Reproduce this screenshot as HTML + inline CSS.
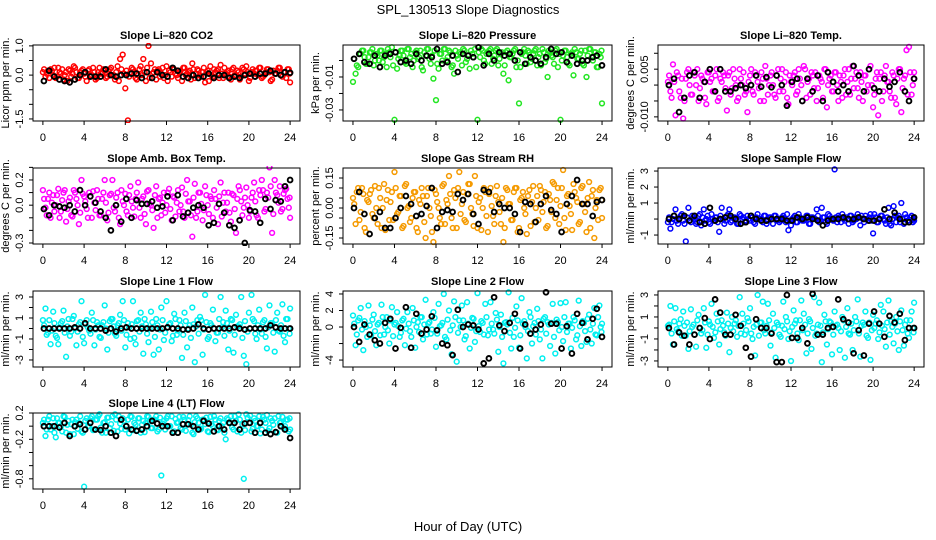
<!DOCTYPE html>
<html><head><meta charset="utf-8"><style>
html,body{margin:0;padding:0;background:#fff;}
svg{display:block;font-family:"Liberation Sans",sans-serif;}
</style></head><body>
<svg id="chart" width="936" height="540" viewBox="0 0 936 540" xmlns="http://www.w3.org/2000/svg">
<rect x="0" y="0" width="936" height="540" fill="#fff"/>
<text x="468" y="14" text-anchor="middle" font-size="13">SPL_130513  Slope Diagnostics</text>
<text x="468" y="531" text-anchor="middle" font-size="13">Hour of Day (UTC)</text>
</svg>
<script>
const T=[0,0.25,0.5,0.75,1,1.25,1.5,1.75,2,2.25,2.5,2.75,3,3.25,3.5,3.75,4,4.25,4.5,4.75,5,5.25,5.5,5.75,6,6.25,6.5,6.75,7,7.25,7.5,7.75,8,8.25,8.5,8.75,9,9.25,9.5,9.75,10,10.25,10.5,10.75,11,11.25,11.5,11.75,12,12.25,12.5,12.75,13,13.25,13.5,13.75,14,14.25,14.5,14.75,15,15.25,15.5,15.75,16,16.25,16.5,16.75,17,17.25,17.5,17.75,18,18.25,18.5,18.75,19,19.25,19.5,19.75,20,20.25,20.5,20.75,21,21.25,21.5,21.75,22,22.25,22.5,22.75,23,23.25,23.5,23.75,24];
const T2=[0.12,0.37,0.62,0.87,1.12,1.37,1.62,1.87,2.12,2.37,2.62,2.87,3.12,3.37,3.62,3.87,4.12,4.37,4.62,4.87,5.12,5.37,5.62,5.87,6.12,6.37,6.62,6.87,7.12,7.37,7.62,7.87,8.12,8.37,8.62,8.87,9.12,9.37,9.62,9.87,10.12,10.37,10.62,10.87,11.12,11.37,11.62,11.87,12.12,12.37,12.62,12.87,13.12,13.37,13.62,13.87,14.12,14.37,14.62,14.87,15.12,15.37,15.62,15.87,16.12,16.37,16.62,16.87,17.12,17.37,17.62,17.87,18.12,18.37,18.62,18.87,19.12,19.37,19.62,19.87,20.12,20.37,20.62,20.87,21.12,21.37,21.62,21.87,22.12,22.37,22.62,22.87,23.12,23.37,23.62,23.87,23.95];
const TB=[0,0.5,1,1.5,2,2.5,3,3.5,4,4.5,5,5.5,6,6.5,7,7.5,8,8.5,9,9.5,10,10.5,11,11.5,12,12.5,13,13.5,14,14.5,15,15.5,16,16.5,17,17.5,18,18.5,19,19.5,20,20.5,21,21.5,22,22.5,23,23.5,24];
const xTicks=[0,4,8,12,16,20,24];

const co2Vals=[0.1,-0.05,0.15,0.2,0.0,-0.1,0.25,0.05,-0.15,0.1,0.2,-0.05,0.3,0.1,-0.1,0.15,0.05,-0.2,0.2,0.0,0.1,-0.1,0.25,0.05,0.15,-0.05,0.2,0.0,-0.15,0.3,0.55,0.7,-0.45,-1.55,0.1,0.2,-0.1,0.0,0.3,0.55,-0.2,1.0,0.4,0.1,-0.15,0.2,0.05,-0.1,0.3,0.15,-0.05,0.2,0.0,0.1,-0.2,0.25,0.05,0.15,0.4,-0.1,0.2,0.0,0.1,-0.25,0.15,0.3,-0.05,0.1,0.2,0.35,-0.1,0.05,0.15,-0.15,0.25,0.0,0.1,-0.05,0.2,0.3,-0.2,0.1,0.05,0.15,0.25,-0.1,0.0,0.2,0.1,-0.15,0.05,0.15,0.25,-0.05,0.1,0.2,-0.25];
const co2Vals2=[0.2,0.05,-0.1,0.15,0.25,-0.05,0.1,0.2,0.0,-0.2,0.15,0.05,0.25,-0.1,0.1,0.2,-0.05,0.15,0.0,0.25,-0.15,0.1,0.05,0.2,-0.1,0.15,0.25,0.0,0.1,-0.2,0.2,0.05,0.15,-0.05,0.25,0.1,-0.15,0.2,0.0,0.1,0.25,-0.1,0.05,0.2,0.15,-0.05,0.25,0.0,-0.2,0.1,0.2,0.05,-0.1,0.15,0.25,0.0,0.1,-0.15,0.2,0.05,0.15,-0.05,0.25,0.1,-0.2,0.0,0.2,0.15,-0.1,0.05,0.25,0.1,-0.05,0.2,0.0,0.15,-0.15,0.25,0.05,0.1,-0.1,0.2,0.15,0.0,0.25,-0.05,0.1,0.2,-0.2,0.15,0.05,0.25,0.0,0.1,-0.1,0.2,0.05];
const co2Black=[-0.2,0.15,-0.05,-0.15,-0.2,-0.25,-0.15,0.0,0.1,-0.05,-0.05,-0.05,0.2,0.0,-0.05,0.0,0.0,0.05,0.05,-0.1,0.1,-0.1,0.1,0.0,-0.05,0.25,0.15,-0.05,-0.1,0.0,-0.1,-0.05,0.05,-0.1,0.0,0.0,-0.1,-0.05,-0.1,0.0,0.05,-0.05,0.05,0.05,0.15,0.05,0.0,0.1,0.08];

const presVals=[-0.013,-0.008,-0.004,0.004,0.006,-0.002,0.002,0.005,-0.003,0.004,0.0,0.006,0.002,-0.004,0.005,0.008,-0.036,-0.005,0.003,0.006,-0.001,0.007,0.002,-0.004,0.005,0.001,0.006,-0.006,0.003,0.007,-0.002,-0.011,-0.024,-0.005,0.004,0.007,0.0,0.006,-0.004,-0.008,0.003,0.005,-0.003,0.006,0.001,-0.005,0.004,0.007,-0.036,0.002,0.006,-0.002,0.005,0.007,0.001,0.006,-0.003,0.004,-0.008,0.005,-0.012,0.002,0.006,-0.004,-0.026,0.004,0.007,-0.002,0.005,0.001,0.006,-0.003,0.004,0.007,-0.001,-0.010,0.005,0.002,0.006,-0.004,-0.036,0.003,0.006,-0.002,0.004,-0.009,0.005,0.001,0.006,-0.003,-0.010,0.007,0.002,0.005,-0.004,0.004,-0.026];
const presVals2=[0.001,-0.003,0.004,0.006,0.002,-0.002,0.005,0.007,0.0,0.003,0.006,-0.001,0.004,0.007,0.002,-0.003,0.005,0.001,0.006,0.003,-0.002,0.007,0.004,0.0,0.006,0.002,-0.004,0.005,0.007,0.001,0.003,0.006,-0.002,0.004,0.0,0.007,0.002,0.005,-0.003,0.006,0.001,0.004,0.007,-0.001,0.003,0.006,0.002,-0.004,0.005,0.007,0.0,0.004,0.006,-0.002,0.003,0.007,0.001,0.005,-0.003,0.006,0.002,0.004,0.007,0.0,-0.004,0.005,0.003,0.006,-0.001,0.004,0.007,0.002,-0.003,0.005,0.001,0.006,0.003,-0.002,0.007,0.004,0.0,0.006,0.002,-0.003,0.005,0.007,0.001,0.004,-0.002,0.006,0.003,0.007,0.0,0.005,-0.004,0.002,0.006];
const presBlack=[0.001,0.004,-0.001,-0.002,0.003,-0.004,0.003,0.004,0.005,-0.001,0.0,-0.002,0.004,0.0,0.003,0.002,0.007,-0.002,-0.001,0.003,-0.007,0.004,0.003,0.002,0.008,-0.003,0.004,0.0,0.005,0.003,0.004,0.0,0.005,-0.002,0.002,0.0,-0.002,0.002,0.007,0.004,0.005,-0.001,0.003,-0.002,0.0,0.0,0.002,0.003,-0.003];

const tempVals=[0.001,-0.002,0.0065,-0.0095,0.003,-0.004,-0.0105,0.002,0.005,-0.003,0.004,0.0,-0.005,0.003,0.001,-0.006,0.004,0.002,-0.002,0.005,-0.004,0.001,0.003,-0.008,0.004,-0.001,0.002,-0.005,0.005,0.0,-0.003,-0.0085,0.003,-0.002,0.004,0.001,-0.005,0.002,0.006,-0.003,0.003,0.0,-0.004,0.005,0.002,-0.002,0.004,-0.006,0.001,0.003,-0.003,0.005,0.0,0.006,-0.004,0.002,0.004,-0.001,-0.005,0.003,0.001,0.005,-0.007,0.002,-0.002,0.004,0.0,0.003,-0.004,0.005,0.001,-0.003,0.006,0.002,-0.001,0.004,-0.005,0.003,0.0,0.006,-0.007,0.002,-0.0095,0.004,-0.002,0.006,0.001,-0.004,0.003,-0.006,0.005,-0.0085,0.002,0.011,0.012,-0.003,0.004];
const tempVals2=[0.003,-0.004,0.001,0.004,-0.002,0.002,-0.005,0.004,0.0,-0.003,0.003,0.005,-0.001,0.002,-0.004,0.004,0.001,-0.002,0.003,-0.005,0.002,0.004,-0.001,0.003,-0.003,0.005,0.0,-0.004,0.002,0.004,-0.002,0.001,0.005,-0.003,0.003,-0.001,0.004,-0.005,0.002,0.0,0.004,-0.003,0.003,-0.002,0.005,0.001,-0.004,0.003,0.0,0.004,-0.002,0.002,-0.005,0.005,0.001,-0.003,0.003,0.004,-0.001,0.002,-0.004,0.005,0.0,0.003,-0.002,0.004,-0.005,0.001,0.003,-0.003,0.005,0.002,-0.001,0.004,-0.004,0.001,0.003,-0.002,0.005,0.0,-0.003,0.004,0.002,-0.005,0.003,0.001,-0.002,0.004,-0.004,0.002,0.005,-0.001,0.003,-0.003,0.004,0.0,0.002];
const tempBlack=[0.0,0.002,-0.0085,-0.004,0.003,0.004,-0.004,0.001,0.005,-0.002,0.005,-0.002,-0.002,-0.001,0.0,-0.001,0.0,0.003,-0.0005,0.0025,-0.0007,0.003,0.0,-0.0065,0.001,0.002,-0.005,0.002,-0.002,0.003,-0.005,0.004,0.001,-0.002,0.0,-0.002,0.006,0.003,-0.002,0.005,-0.001,-0.002,0.002,-0.0005,0.001,0.004,-0.002,-0.005,0.002];

const ambVals=[0.12,-0.02,0.05,-0.1,0.08,0.0,0.13,-0.05,0.1,-0.13,0.03,-0.08,0.12,0.05,-0.15,0.2,0.07,-0.03,0.1,-0.1,0.02,0.12,-0.08,0.05,0.2,-0.12,0.08,0.2,-0.05,0.1,-0.15,0.03,0.09,-0.08,0.15,-0.02,0.05,0.18,-0.1,0.07,-0.15,0.12,0.0,-0.18,0.15,0.05,-0.08,0.1,0.0,0.13,-0.12,0.06,0.02,-0.05,0.14,-0.1,0.2,0.03,-0.25,0.17,-0.05,0.1,-0.12,0.15,0.0,0.07,-0.1,0.05,-0.15,0.18,0.02,-0.05,0.1,-0.13,0.08,-0.22,0.15,0.03,-0.02,0.14,-0.1,0.06,0.18,-0.08,0.12,0.2,-0.05,0.1,0.3,-0.22,0.2,0.08,0.15,-0.03,0.12,0.05,-0.1];
const ambVals2=[0.05,-0.08,0.1,0.02,-0.05,0.08,-0.1,0.04,0.12,-0.03,0.06,-0.09,0.1,0.0,-0.06,0.09,0.03,-0.1,0.07,0.11,-0.04,0.05,-0.08,0.1,0.02,-0.06,0.09,-0.02,0.06,-0.1,0.12,0.0,-0.05,0.08,0.03,-0.09,0.1,-0.02,0.05,-0.07,0.11,0.01,-0.04,0.08,-0.1,0.06,0.02,-0.06,0.1,-0.03,0.07,-0.09,0.12,0.0,-0.05,0.09,0.03,-0.08,0.06,-0.1,0.1,0.01,-0.04,0.08,-0.07,0.05,0.12,-0.02,0.07,-0.09,0.1,0.02,-0.06,0.09,-0.03,0.05,0.12,-0.08,0.06,0.0,-0.05,0.1,0.03,-0.1,0.08,0.12,-0.03,0.06,0.15,-0.07,0.1,0.02,-0.05,0.09,0.13,-0.02,0.06];
const ambBlack=[-0.03,-0.08,0.0,-0.01,-0.02,0.0,-0.05,0.12,0.0,0.07,0.02,-0.05,-0.1,-0.2,0.0,-0.13,0.05,-0.1,0.04,0.01,0.01,0.03,-0.02,-0.01,0.07,-0.12,0.08,-0.09,-0.06,-0.02,0.0,-0.02,-0.16,-0.14,0.01,-0.06,-0.16,-0.18,-0.12,-0.3,-0.04,-0.05,-0.14,0.05,-0.03,0.04,0.03,0.15,0.2];

const rhVals=[0.05,-0.08,0.1,-0.02,0.07,-0.12,0.03,0.09,-0.05,0.0,0.1,-0.1,0.12,0.04,-0.06,0.08,0.18,-0.03,0.06,-0.1,0.11,0.0,-0.07,0.05,0.08,-0.12,0.02,0.06,-0.15,0.1,-0.04,-0.17,0.07,0.0,-0.08,0.12,0.04,0.16,-0.05,0.09,-0.1,0.18,0.02,-0.06,0.07,0.12,-0.03,0.16,-0.1,0.05,0.0,0.08,-0.12,0.1,-0.04,0.06,0.03,-0.08,-0.17,0.1,0.02,-0.06,0.08,0.1,-0.1,0.05,0.0,-0.13,0.09,0.03,-0.07,0.06,0.11,-0.02,0.08,-0.09,0.04,0.13,-0.05,0.1,0.01,0.19,-0.11,0.07,-0.03,0.12,0.05,-0.08,0.1,0.02,-0.12,0.13,0.06,-0.15,0.04,0.09,-0.05];
const rhVals2=[0.02,0.08,-0.06,0.1,-0.1,0.04,0.07,-0.03,0.11,-0.08,0.05,0.0,-0.11,0.09,0.03,-0.06,0.1,-0.02,0.06,-0.09,0.12,0.01,-0.05,0.08,-0.1,0.04,0.1,-0.07,0.06,0.0,-0.12,0.09,0.03,-0.05,0.11,-0.08,0.02,0.07,-0.1,0.05,0.1,-0.03,0.08,-0.07,0.12,0.0,-0.09,0.06,0.03,-0.11,0.1,-0.04,0.07,0.01,-0.08,0.11,-0.02,0.05,-0.1,0.09,0.02,-0.06,0.1,-0.12,0.04,0.08,-0.03,0.06,-0.09,0.11,0.0,-0.06,0.09,0.03,-0.1,0.07,-0.02,0.12,0.04,-0.08,0.1,-0.05,0.06,0.01,-0.11,0.08,0.03,-0.07,0.11,-0.02,0.05,-0.1,0.09,0.0,-0.06,0.1,0.04];
const rhBlack=[0.0,0.08,-0.03,-0.13,-0.05,-0.02,-0.1,-0.1,-0.05,0.0,0.06,0.02,-0.04,-0.03,0.01,0.1,-0.1,-0.02,-0.01,-0.02,0.07,0.04,0.07,-0.03,-0.08,0.09,0.08,-0.02,0.02,0.0,0.0,-0.03,-0.12,0.03,0.02,-0.07,0.02,0.06,-0.01,-0.03,-0.12,0.02,0.06,0.14,0.02,0.02,-0.04,0.03,0.04];

const sampleVals=[-0.2,-0.6,0.0,0.6,-0.3,0.2,-0.1,-1.4,0.7,-0.2,0.1,-0.3,0.2,-0.4,0.6,0.0,-0.2,0.3,-0.1,0.1,-0.8,0.7,-0.3,0.2,0.6,-0.1,0.1,-0.3,0.3,0.0,-0.2,0.2,-0.1,0.1,-0.3,0.3,0.0,-0.2,0.2,-0.1,0.1,-0.3,0.2,0.0,-0.1,0.2,-0.2,-0.7,-0.4,0.1,-0.2,0.3,0.0,-0.1,0.2,-0.3,0.1,0.0,0.6,-0.2,0.7,0.1,-0.3,0.2,0.0,3.1,-0.2,0.1,0.3,-0.1,0.0,0.2,-0.2,0.1,0.3,-0.4,0.0,0.2,-0.1,0.3,-0.9,0.1,-0.2,0.2,0.0,-0.3,0.7,-0.4,0.8,-0.2,0.2,1.0,-0.3,0.1,-0.2,0.2,-0.1];
const sampleVals2=[0.1,-0.2,0.2,-0.1,0.0,0.3,-0.3,0.1,-0.1,0.2,0.0,-0.2,0.3,0.1,-0.1,0.2,-0.3,0.0,0.1,-0.2,0.2,0.0,-0.1,0.3,-0.2,0.1,0.0,-0.3,0.2,0.1,-0.1,0.0,0.2,-0.2,0.1,0.0,-0.1,0.2,-0.3,0.1,0.0,0.2,-0.1,-0.2,0.1,0.0,0.3,-0.1,0.0,0.2,-0.2,0.1,-0.1,0.0,0.2,-0.3,0.1,0.0,0.2,-0.1,0.1,-0.2,0.3,0.0,-0.1,0.1,0.2,-0.2,0.0,0.1,-0.3,0.2,-0.1,0.0,0.1,0.2,-0.2,0.0,0.1,-0.1,0.3,-0.2,0.0,0.2,-0.1,0.1,-0.3,0.0,0.2,0.1,-0.2,0.0,0.3,-0.1,0.1,-0.2,0.0];
const sampleBlack=[0.0,0.2,0.0,0.2,-0.1,0.2,-0.2,-0.3,0.7,-0.1,0.0,0.1,0.2,0.0,-0.3,-0.2,0.2,0.0,-0.1,-0.1,0.0,0.0,0.0,-0.1,-0.1,0.1,0.0,0.1,0.0,-0.1,-0.4,-0.1,0.0,0.0,0.1,0.0,0.0,0.1,0.0,-0.1,-0.1,0.0,0.6,0.0,0.4,0.0,-0.2,-0.2,0.1];

const line1Vals=[0.8,1.9,-0.4,-1.5,1.6,-0.7,-1.5,0.5,1.7,-2.7,0.9,-0.3,1.2,-1.6,0.4,2.6,-1.4,0.8,-0.2,1.5,-1.6,0.6,-0.8,0.3,2.2,-2.0,0.7,0.9,-0.5,0.3,1.3,2.6,-1.8,0.5,-1.0,2.6,-1.5,0.8,1.5,-2.4,0.4,-1.3,1.6,-2.5,0.9,-2.0,2.0,-1.1,2.6,0.4,-1.2,1.4,-0.6,0.8,-2.8,1.5,-1.8,0.3,2.0,-3.2,0.8,1.1,-2.5,3.2,-1.0,0.5,1.8,-1.2,-0.4,3.0,0.6,1.7,-2.0,0.9,-2.3,1.3,0.2,3.0,-2.6,-3.4,1.5,3.2,0.7,-1.0,1.8,-0.5,0.8,-1.9,2.2,0.5,-2.2,1.5,-0.3,2.3,-1.3,0.9,1.9];
const line1Vals2=[0.3,-0.6,0.8,-0.2,0.5,-0.9,0.1,0.7,-0.4,0.2,-0.7,0.9,0.0,-0.3,0.6,-0.8,0.4,0.1,-0.5,0.8,-0.1,0.3,-0.9,0.6,0.0,-0.4,0.9,0.2,-0.7,0.5,-0.2,0.8,-0.6,0.1,0.4,-0.9,0.7,-0.3,0.2,0.9,-0.5,0.0,0.6,-0.8,0.3,-0.1,0.8,-0.4,0.1,0.5,-0.7,0.9,-0.2,0.3,-0.6,0.7,0.0,-0.9,0.4,0.2,-0.5,0.8,-0.1,0.6,-0.8,0.3,0.0,-0.4,0.9,0.1,-0.7,0.5,-0.2,0.8,-0.6,0.2,0.4,-0.9,0.7,-0.3,0.0,0.9,-0.5,0.3,-0.1,0.6,-0.8,0.1,0.5,-0.4,0.8,-0.2,0.3,-0.7,0.9,0.0,-0.5];
const line1Black=[0.0,0.0,0.0,0.0,0.0,0.0,0.1,0.0,0.5,0.0,0.0,0.0,-0.2,0.0,-0.3,0.0,0.1,0.0,0.0,0.0,0.0,0.0,0.0,0.0,0.1,0.0,0.0,-0.1,-0.1,0.0,0.4,0.0,-0.1,0.0,0.0,0.0,0.0,0.1,0.0,-0.1,0.0,0.0,0.0,0.0,0.3,0.1,0.0,0.0,0.0];

const line2Vals=[1.4,-2.2,0.8,2.3,-2.8,0.0,2.6,-1.0,1.5,-2.2,0.5,2.7,-0.9,1.2,-2.0,2.4,0.3,1.8,-1.2,0.8,-2.2,1.8,-0.5,2.3,-2.5,0.6,1.2,-1.5,3.3,0.4,-0.8,1.8,-2.4,2.8,0.2,4.0,-1.5,2.0,-3.3,3.1,-4.2,0.8,2.6,-1.5,3.0,-2.6,1.1,-1.8,4.1,-0.6,0.5,2.8,-1.0,3.0,-0.3,1.7,-3.0,1.5,-4.4,0.6,4.2,-2.6,-1.2,2.5,-2.5,3.5,0.7,-3.8,1.8,-2.0,0.5,2.2,-1.5,-3.8,1.2,0.6,-2.3,2.8,-3.2,0.6,2.9,-1.7,3.0,0.4,-2.6,1.2,-1.5,3.2,-2.3,0.5,-1.8,1.5,-2.0,2.3,-1.0,2.6,0.4];
const line2Vals2=[0.4,-0.9,1.1,-0.3,0.7,-1.2,0.2,0.9,-0.5,0.3,-1.0,1.2,0.0,-0.4,0.8,-1.1,0.5,0.1,-0.7,1.0,-0.2,0.4,-1.2,0.8,0.0,-0.6,1.2,0.3,-0.9,0.6,-0.3,1.1,-0.8,0.1,0.5,-1.2,0.9,-0.4,0.2,1.2,-0.7,0.0,0.8,-1.1,0.4,-0.1,1.0,-0.5,0.1,0.7,-0.9,1.2,-0.3,0.4,-0.8,0.9,0.0,-1.2,0.5,0.3,-0.7,1.1,-0.1,0.8,-1.0,0.4,0.0,-0.5,1.2,0.1,-0.9,0.7,-0.3,1.0,-0.8,0.3,0.5,-1.2,0.9,-0.4,0.0,1.2,-0.6,0.4,-0.1,0.8,-1.0,0.1,0.7,-0.5,1.0,-0.3,0.4,-0.9,1.2,0.0,-0.6];
const line2Black=[0.0,-1.8,0.3,-0.9,-1.6,-2.0,0.5,1.0,-2.6,-0.1,2.4,-2.5,1.6,-0.8,-0.3,1.3,-0.4,-2.0,-2.2,-3.4,2.1,0.0,0.3,0.2,-0.3,-4.4,-3.8,3.6,0.2,-0.5,0.5,1.6,-2.6,0.3,-0.8,-0.3,0.3,4.2,0.4,0.4,-2.6,0.1,-3.2,1.6,0.5,-1.5,1.0,2.2,-1.2];

const line3Vals=[0.2,2.0,-1.5,1.8,-0.3,0.8,1.5,-0.7,-1.9,1.7,0.3,-1.7,1.2,-0.5,1.8,-1.8,0.6,2.2,-0.9,1.3,-1.5,0.7,-0.4,1.4,-2.2,1.0,0.4,-0.8,2.8,1.3,-0.6,0.9,1.8,-1.0,-2.5,3.0,0.5,2.4,-0.5,2.2,-1.6,1.3,-2.7,0.3,-0.8,2.4,1.0,-1.0,-3.0,1.6,0.7,-1.1,2.5,1.3,-2.3,0.8,-1.9,2.8,-0.5,2.3,-3.1,1.2,-1.5,0.6,-2.4,1.5,0.3,-2.0,1.0,-2.7,1.8,-0.6,-2.0,1.0,2.6,-2.6,0.5,1.5,-0.9,-2.9,1.2,0.4,-1.0,2.1,1.5,-1.7,2.5,0.6,-1.4,1.0,-2.0,1.6,-1.6,0.7,-0.9,1.5,2.3];
const line3Vals2=[0.3,-0.5,0.6,-0.1,0.4,-0.7,0.2,0.5,-0.3,0.1,-0.6,0.7,0.0,-0.2,0.5,-0.6,0.3,0.1,-0.4,0.6,-0.1,0.2,-0.7,0.4,0.0,-0.3,0.7,0.2,-0.5,0.4,-0.2,0.6,-0.5,0.1,0.3,-0.7,0.5,-0.2,0.2,0.7,-0.4,0.0,0.5,-0.6,0.2,-0.1,0.6,-0.3,0.1,0.4,-0.5,0.7,-0.2,0.3,-0.5,0.6,0.0,-0.7,0.3,0.2,-0.4,0.6,-0.1,0.5,-0.6,0.2,0.0,-0.3,0.7,0.1,-0.5,0.4,-0.2,0.6,-0.5,0.2,0.3,-0.7,0.5,-0.2,0.0,0.7,-0.4,0.2,-0.1,0.5,-0.6,0.1,0.4,-0.3,0.6,-0.2,0.3,-0.5,0.7,0.0,-0.4];
const line3Black=[0.0,-1.5,-0.4,-0.7,-1.5,-0.6,0.0,0.9,-1.0,2.6,1.4,-0.6,-0.6,1.2,0.2,-1.8,-2.6,0.8,0.0,0.0,-0.5,-3.1,-3.1,3.0,-0.9,-0.9,0.0,-1.4,3.1,-0.6,-0.6,0.0,0.1,2.6,0.8,0.5,-2.3,-0.2,-2.5,0.4,1.5,0.4,-0.8,1.1,0.5,1.3,-1.1,0.0,0.0];

const line4Vals=[0.05,-0.15,0.1,-0.05,0.12,-0.17,0.05,0.0,0.15,-0.1,0.08,0.03,-0.12,0.1,0.05,-0.08,-0.92,0.12,0.0,0.15,-0.05,0.1,0.18,-0.1,0.06,0.13,-0.03,0.15,0.18,-0.08,0.04,0.12,-0.05,0.1,0.15,-0.06,0.02,0.12,-0.1,0.08,0.05,0.14,-0.03,0.1,0.15,-0.05,-0.75,0.08,0.12,0.0,0.15,-0.08,0.05,0.14,-0.05,0.1,0.02,0.15,-0.1,0.06,0.12,-0.05,0.1,0.03,-0.08,0.14,0.0,0.1,-0.06,0.12,0.05,-0.2,0.1,0.15,-0.05,0.08,0.18,-0.1,-0.8,0.18,0.05,-0.08,0.12,0.0,0.15,-0.05,0.1,0.17,-0.03,0.08,0.12,-0.1,0.05,0.14,0.0,0.1,-0.05];
const line4Vals2=[0.1,-0.05,0.15,0.0,-0.1,0.12,0.05,-0.08,0.14,0.02,-0.12,0.1,0.06,-0.04,0.15,-0.1,0.08,0.0,0.12,-0.06,0.1,0.15,-0.02,0.05,-0.1,0.13,0.03,-0.07,0.1,0.15,-0.04,0.08,0.0,-0.11,0.14,0.05,-0.06,0.12,0.02,-0.09,0.15,0.07,-0.03,0.1,-0.08,0.13,0.04,-0.05,0.15,0.0,-0.1,0.11,0.06,-0.03,0.14,-0.07,0.09,0.02,-0.12,0.15,0.05,-0.04,0.1,0.13,-0.09,0.03,0.15,-0.05,0.08,0.0,-0.1,0.12,0.06,-0.02,0.15,-0.08,0.1,0.03,-0.06,0.13,0.16,-0.04,0.08,0.0,-0.11,0.14,0.05,-0.07,0.12,0.02,-0.09,0.15,0.06,-0.03,0.1,-0.08,0.12];
const line4Black=[0.0,0.0,0.0,-0.02,0.05,-0.15,0.0,0.03,-0.05,0.05,-0.05,-0.06,0.0,-0.1,-0.15,0.1,0.0,-0.05,-0.07,-0.05,0.0,0.08,0.04,0.0,0.0,-0.1,-0.1,0.03,0.03,0.0,-0.05,0.08,0.04,-0.08,0.0,-0.05,0.05,0.05,-0.05,0.04,0.05,-0.1,0.05,-0.1,-0.12,-0.09,0.0,-0.05,-0.18];

const co2Ticks=[1,0.5,0,-0.5,-1,-1.5], co2Labels=["1.0","","0.0","","","-1.5"];
const presTicks=[0,-0.01,-0.02,-0.03], presLabels=["","-0.01","","-0.03"];
const tempTicks=[0.01,0.005,0,-0.005,-0.01], tempLabels=["","0.005","","","-0.010"];
const ambTicks=[0.3,0.2,0.1,0,-0.1,-0.2,-0.3], ambLabels=["","0.2","","0.0","","","-0.3"];
const rhTicks=[0.15,0.1,0.05,0,-0.05,-0.1,-0.15], rhLabels=["0.15","","","0.00","","","-0.15"];
const sampleTicks=[3,2,1,0,-1], sampleLabels=["3","2","1","","-1"];
const line1Ticks=[3,2,1,0,-1,-2,-3], line1Labels=["3","","1","","-1","","-3"];
const line2Ticks=[4,2,0,-2,-4], line2Labels=["4","2","0","","-4"];
const line3Ticks=[3,2,1,0,-1,-2,-3], line3Labels=["3","","1","","-1","","-3"];
const line4Ticks=[0.2,0,-0.2,-0.4,-0.6,-0.8], line4Labels=["0.2","","-0.2","","","-0.8"];

const cols=[[33,300],[343,612],[658,924]];
const rows=[[45,121],[168,244],[291,367],[413,489]];
const panels=[
 {id:'co2',title:'Slope Li\u2013820 CO2',ylab:'Licor ppm per min.',c:0,r:0,ylim:[-1.57,1.03],col:'#ff0000',vals:co2Vals,vals2:co2Vals2,black:co2Black,ticks:co2Ticks,labels:co2Labels},
 {id:'pressure',title:'Slope Li\u2013820 Pressure',ylab:'kPa per min.',c:1,r:0,ylim:[-0.0367,0.0094],col:'#22e622',vals:presVals,vals2:presVals2,black:presBlack,ticks:presTicks,labels:presLabels},
 {id:'licor-temp',title:'Slope Li\u2013820 Temp.',ylab:'degrees C per min.',c:2,r:0,ylim:[-0.0113,0.0126],col:'#ff00ff',vals:tempVals,vals2:tempVals2,black:tempBlack,ticks:tempTicks,labels:tempLabels},
 {id:'amb-box-temp',title:'Slope Amb. Box Temp.',ylab:'degrees C per min.',c:0,r:1,ylim:[-0.308,0.295],col:'#ff00ff',vals:ambVals,vals2:ambVals2,black:ambBlack,ticks:ambTicks,labels:ambLabels},
 {id:'gas-rh',title:'Slope Gas Stream RH',ylab:'percent per min.',c:1,r:1,ylim:[-0.18,0.2],col:'#f59a00',vals:rhVals,vals2:rhVals2,black:rhBlack,ticks:rhTicks,labels:rhLabels},
 {id:'sample-flow',title:'Slope Sample Flow',ylab:'ml/min per min.',c:2,r:1,ylim:[-1.56,3.19],col:'#0000ff',vals:sampleVals,vals2:sampleVals2,black:sampleBlack,ticks:sampleTicks,labels:sampleLabels},
 {id:'line1-flow',title:'Slope Line 1 Flow',ylab:'ml/min per min.',c:0,r:2,ylim:[-3.67,3.57],col:'#00f0f0',vals:line1Vals,vals2:line1Vals2,black:line1Black,ticks:line1Ticks,labels:line1Labels},
 {id:'line2-flow',title:'Slope Line 2 Flow',ylab:'ml/min per min.',c:1,r:2,ylim:[-4.84,4.36],col:'#00f0f0',vals:line2Vals,vals2:line2Vals2,black:line2Black,ticks:line2Ticks,labels:line2Labels},
 {id:'line3-flow',title:'Slope Line 3 Flow',ylab:'ml/min per min.',c:2,r:2,ylim:[-3.55,3.36],col:'#00f0f0',vals:line3Vals,vals2:line3Vals2,black:line3Black,ticks:line3Ticks,labels:line3Labels},
 {id:'line4-flow',title:'Slope Line 4 (LT) Flow',ylab:'ml/min per min.',c:0,r:3,ylim:[-0.955,0.2],col:'#00f0f0',vals:line4Vals,vals2:line4Vals2,black:line4Black,ticks:line4Ticks,labels:line4Labels}
];
const NS='http://www.w3.org/2000/svg';
const svg=document.getElementById('chart');
function mk(tag,attrs,parent){const e=document.createElementNS(NS,tag);for(const k in attrs)e.setAttribute(k,attrs[k]);(parent||svg).appendChild(e);return e;}
panels.forEach(p=>{
  const L=cols[p.c][0],R=cols[p.c][1],Tp=rows[p.r][0],B=rows[p.r][1];
  const xs=v=>L+(v+0.96)/25.92*(R-L);
  const ys=v=>B-(v-p.ylim[0])/(p.ylim[1]-p.ylim[0])*(B-Tp);
  const g=mk('g',{});
  
  
  const clipId='clip-'+p.id;
  const cp=mk('clipPath',{id:clipId},g);
  mk('rect',{x:L-2,y:Tp-2,width:R-L+4,height:B-Tp+4},cp);
  const cg=mk('g',{},g);
  cg.setAttribute('clip-path','url(#'+clipId+')');
  
  
  const n2=Math.min(T2.length,p.vals2.length);
  for(let i=0;i<n2;i++){
    const c=mk('circle',{cx:xs(T2[i]).toFixed(1),cy:ys(p.vals2[i]).toFixed(1),r:2.4,fill:'none',stroke:p.col,'stroke-width':1.5},cg);
    
    
  }
  const n=Math.min(T.length,p.vals.length);
  for(let i=0;i<n;i++){
    const c=mk('circle',{cx:xs(T[i]).toFixed(1),cy:ys(p.vals[i]).toFixed(1),r:2.4,fill:'none',stroke:p.col,'stroke-width':1.5},cg);
    
    
  }
  const nb=Math.min(TB.length,p.black.length);
  for(let i=0;i<nb;i++){
    const c=mk('circle',{cx:xs(TB[i]+0.6>24?TB[i]:TB[i]+0.1).toFixed(1),cy:ys(p.black[i]).toFixed(1),r:2.4,fill:'none',stroke:'#000','stroke-width':1.9},cg);
    
    
  }
  const box=mk('rect',{x:L,y:Tp,width:R-L,height:B-Tp,fill:'none',stroke:'#000','stroke-width':1},g);
  
  
  const t=mk('text',{x:(L+R)/2,y:Tp-6,'text-anchor':'middle','font-size':11,'font-weight':'bold'},g);
  t.textContent=p.title;
  
  
  xTicks.forEach(v=>{
    const x=xs(v);
    mk('line',{x1:x,x2:x,y1:B,y2:B+4,stroke:'#000'},g);
    const tx=mk('text',{x:x,y:B+20,'text-anchor':'middle','font-size':11},g);
    tx.textContent=v;
    
    
  });
  p.ticks.forEach((v,i)=>{
    const y=ys(v);
    mk('line',{x1:L-4,x2:L,y1:y,y2:y,stroke:'#000'},g);
    if(p.labels[i]){
      const lx=L-10;
      const tx=mk('text',{x:lx,y:y,'text-anchor':'middle','font-size':11,transform:'rotate(-90 '+lx+' '+y+')'},g);
      tx.textContent=p.labels[i];
      
      
    }
  });
  const yc=(Tp+B)/2,xl=L-24;
  const yt=mk('text',{x:xl,y:yc,'text-anchor':'middle','font-size':11,transform:'rotate(-90 '+xl+' '+yc+')'},g);
  yt.textContent=p.ylab;
  
  
});
</script>
</body></html>
